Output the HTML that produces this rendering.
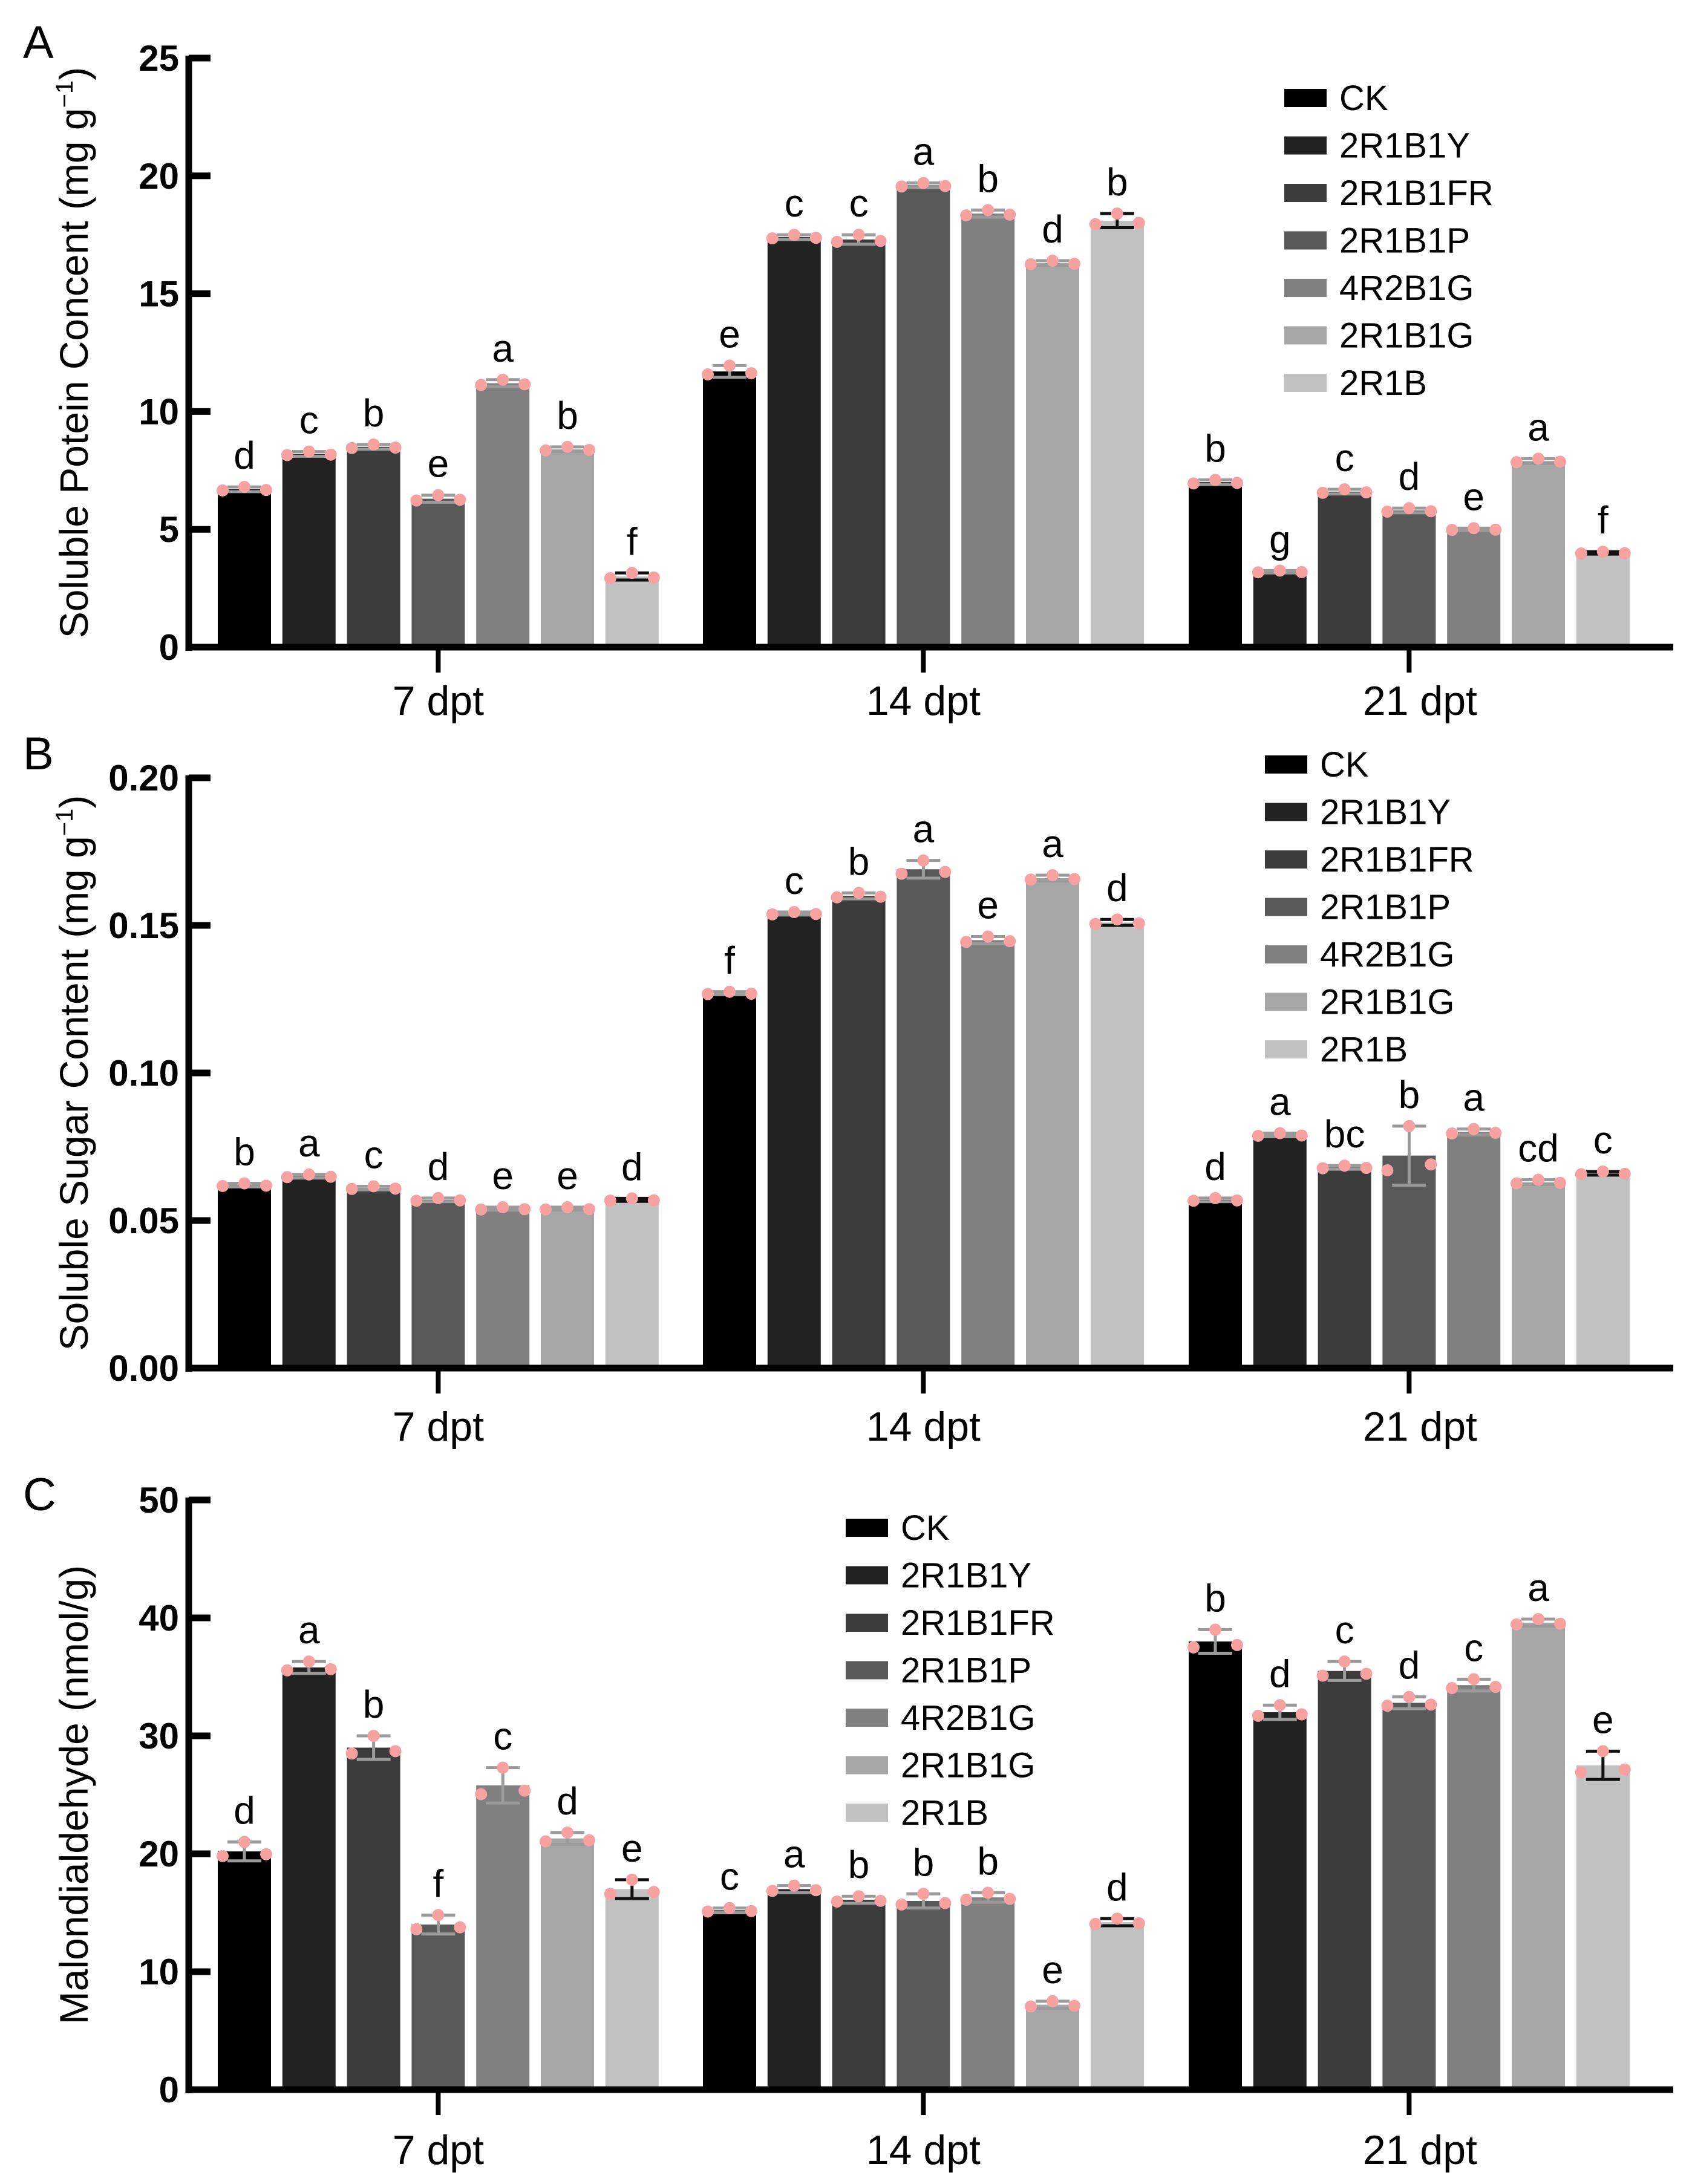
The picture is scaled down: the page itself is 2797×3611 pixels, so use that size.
<!DOCTYPE html>
<html><head><meta charset="utf-8">
<style>
html,body{margin:0;padding:0;background:#fff;}
svg{display:block;}
text{font-family:"Liberation Sans",Arial,sans-serif;}
</style></head>
<body>
<svg id="chart" width="2797" height="3611" viewBox="0 0 2797 3611" xmlns="http://www.w3.org/2000/svg">
<rect x="0" y="0" width="2797" height="3611" fill="#fff"/>
</svg>
<script>
const series = ["CK","2R1B1Y","2R1B1FR","2R1B1P","4R2B1G","2R1B1G","2R1B"];
const colors = ["#000000","#222222","#3c3c3c","#595959","#808080","#a6a6a6","#c1c1c1"];
const categories = ["7 dpt","14 dpt","21 dpt"];

const protValues = [[6.7,8.2,8.5,6.3,11.2,8.4,3.0],[11.7,17.4,17.3,19.6,18.4,16.3,18.1],[7.0,3.2,6.6,5.8,5.0,7.9,4.0]];
const protErr = [[0.1,0.1,0.1,0.15,0.15,0.1,0.15],[0.25,0.1,0.2,0.1,0.15,0.1,0.3],[0.1,0.05,0.1,0.1,0.05,0.1,0.05]];
const protLetters = [["d","c","b","e","a","b","f"],["e","c","c","a","b","d","b"],["b","g","c","d","e","a","f"]];
const protTicks = [0,5,10,15,20,25];
const protTickLabels = ["0","5","10","15","20","25"];

const sugarValues = [[0.062,0.065,0.061,0.057,0.054,0.054,0.057],[0.127,0.154,0.160,0.169,0.145,0.166,0.151],[0.057,0.079,0.068,0.072,0.080,0.063,0.066]];
const sugarErr = [[0.0006,0.0006,0.0006,0.0006,0.0005,0.0005,0.0005],[0.0005,0.0005,0.001,0.003,0.0012,0.001,0.001],[0.0006,0.0006,0.0006,0.010,0.001,0.0008,0.0006]];
const sugarLetters = [["b","a","c","d","e","e","d"],["f","c","b","a","e","a","d"],["d","a","bc","b","a","cd","c"]];
const sugarTicks = [0,0.05,0.10,0.15,0.20];
const sugarTickLabels = ["0.00","0.05","0.10","0.15","0.20"];

const mdaValues = [[20.2,35.8,29.0,14.0,25.8,21.3,17.0],[15.2,17.0,16.1,16.0,16.3,7.2,14.2],[38.0,32.0,35.5,32.8,34.3,39.6,27.5]];
const mdaErr = [[0.8,0.5,1.0,0.8,1.5,0.5,0.8],[0.2,0.3,0.3,0.6,0.4,0.3,0.3],[1.0,0.6,0.8,0.5,0.5,0.3,1.2]];
const mdaLetters = [["d","a","b","f","c","d","e"],["c","a","b","b","b","e","d"],["b","d","c","d","c","a","e"]];
const mdaTicks = [0,10,20,30,40,50];
const mdaTickLabels = ["0","10","20","30","40","50"];

const svg = document.getElementById('chart');
const NS = "http://www.w3.org/2000/svg";
function mk(tag, attrs, parent){
  const e = document.createElementNS(NS, tag);
  for (const k in attrs) e.setAttribute(k, attrs[k]);
  (parent||svg).appendChild(e);
  return e;
}

const AX_X = 312, AX_RIGHT = 2766;
const GROUP_START = [360, 1162, 1965];
const BAR_STEP = 106.8, BAR_W = 88;
function barX(g, s){ return GROUP_START[g] + s*BAR_STEP; }
function catX(g){ return GROUP_START[g] + (6*BAR_STEP + BAR_W)/2; }

function drawPanel(cfg){
  const g = mk('g', {});
  
  
  const yScale = v => cfg.y0 - (v/cfg.max)*(cfg.y0 - cfg.yTop);

  const pl = mk('text', {x:38, y:cfg.letterY, 'font-size':76, fill:'#000'}, g);
  pl.textContent = cfg.letter;
  
  

  for (let c=0;c<3;c++){
    for (let s=0;s<7;s++){
      const v = cfg.values[c][s], e = cfg.err[c][s];
      const x = barX(c,s), y = yScale(v);
      const r = mk('rect', {x:x, y:y, width:BAR_W, height:cfg.y0 - y, fill:colors[s]}, g);
      
      
      const cx = x + BAR_W/2;
      const ec = colors[s] === "#c1c1c1" ? "#111" : "#9a9a9a";
      const yh = yScale(v+e), yl = yScale(v-e);
      const eb = mk('path', {d:`M${cx-28},${yh}H${cx+28}M${cx},${yh}V${yl}M${cx-28},${yl}H${cx+28}`, stroke:ec, 'stroke-width':5, fill:'none'}, g);
      
      
      const offs = [[-36,-0.5],[0,1],[36,-0.3]];
      offs.forEach(o=>{
        const d = mk('circle', {cx:cx+o[0], cy:yScale(v + e*o[1]), r:10, fill:'#f7a1a1'}, g);
        
        
      });
      const lt = mk('text', {x:cx, y:yh-30, 'font-size':64, 'text-anchor':'middle', fill:'#000'}, g);
      lt.textContent = cfg.letters[c][s];
      
      
    }
  }

  const ya = mk('line', {x1:AX_X, y1:cfg.yTop-4, x2:AX_X, y2:cfg.y0+6, stroke:'#000', 'stroke-width':11}, g);
  
  
  const xa = mk('line', {x1:AX_X-5, y1:cfg.y0, x2:AX_RIGHT, y2:cfg.y0, stroke:'#000', 'stroke-width':11}, g);
  
  

  cfg.ticks.forEach((t,i)=>{
    const y = yScale(t);
    const tk = mk('line', {x1:AX_X, y1:y, x2:AX_X+36, y2:y, stroke:'#000', 'stroke-width':11}, g);
    
    
    const tl = mk('text', {x:AX_X-16, y:y+21, 'font-size':60, 'font-weight':'bold', 'text-anchor':'end', fill:'#000'}, g);
    tl.textContent = cfg.tickLabels[i];
    
    
  });

  categories.forEach((c,i)=>{
    const x = catX(i);
    const tk = mk('line', {x1:x, y1:cfg.y0, x2:x, y2:cfg.y0+42, stroke:'#000', 'stroke-width':8}, g);
    
    
    const tl = mk('text', {x:x + (i===2 ? 18 : 0), y:cfg.catY, 'font-size':68, 'text-anchor':'middle', fill:'#000'}, g);
    tl.textContent = c;
    
    
  });

  const cy = (cfg.y0 + cfg.yTop)/2;
  const tt = mk('text', {x:0, y:0, 'font-size':66, 'text-anchor':'middle', fill:'#000', transform:`translate(145,${cy}) rotate(-90)`}, g);
  tt.textContent = cfg.title;
  if (cfg.sup){
    const ts = mk('tspan', {'font-size':40, dy:-25}, tt);
    ts.textContent = '−1';
    const te = mk('tspan', {dy:25}, tt);
    te.textContent = ')';
  }
  
  

  series.forEach((s,i)=>{
    const yy = cfg.legY + i*78.5;
    const sw = mk('rect', {x:cfg.legX, y:yy-15, width:70, height:30, fill:colors[i]}, g);
    
    
    const lt = mk('text', {x:cfg.legX+91, y:yy+20, 'font-size':58, fill:'#000'}, g);
    lt.textContent = s;
    
    
  });
}

drawPanel({name:'panel-a-soluble-protein', letter:'A', letterY:96, y0:1070, yTop:96, max:25,
  values:protValues, err:protErr, letters:protLetters, ticks:protTicks, tickLabels:protTickLabels,
  catY:1182, title:'Soluble Potein Concent (mg g', sup:true, legX:2123, legY:162});
drawPanel({name:'panel-b-soluble-sugar', letter:'B', letterY:1272, y0:2262, yTop:1286, max:0.20,
  values:sugarValues, err:sugarErr, letters:sugarLetters, ticks:sugarTicks, tickLabels:sugarTickLabels,
  catY:2382, title:'Soluble Sugar Content (mg g', sup:true, legX:2091, legY:1264});
drawPanel({name:'panel-c-malondialdehyde', letter:'C', letterY:2497, y0:3455, yTop:2480, max:50,
  values:mdaValues, err:mdaErr, letters:mdaLetters, ticks:mdaTicks, tickLabels:mdaTickLabels,
  catY:3578, title:'Malondialdehyde (nmol/g)', sup:false, legX:1398, legY:2526});
</script>
</body></html>
